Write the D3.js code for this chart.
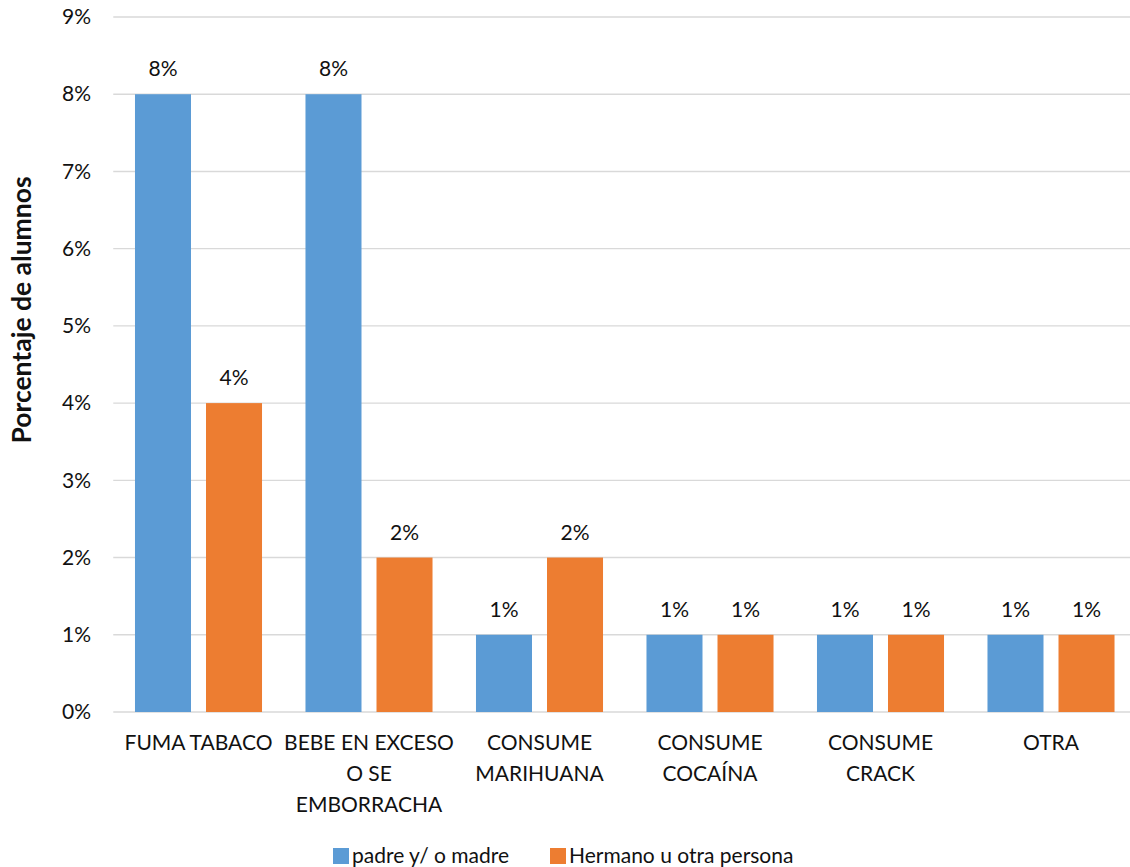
<!DOCTYPE html>
<html>
<head>
<meta charset="utf-8">
<script src="https://cdn.jsdelivr.net/npm/d3@7"></script>
<style>
  html, body { margin: 0; padding: 0; background: #fff; }
  svg { display: block; font-family: Lato, "Open Sans", sans-serif; }
</style>
</head>
<body>
<svg id="chart" width="1130" height="867"></svg>
<script>
// Categories (line breaks mark where the axis label wraps)
const categories = [
  "FUMA TABACO",
  "BEBE EN EXCESO\nO SE\nEMBORRACHA",
  "CONSUME\nMARIHUANA",
  "CONSUME\nCOCAÍNA",
  "CONSUME\nCRACK",
  "OTRA"
];
const seriesNames = ["padre y/ o madre", "Hermano u otra persona"];
const padreMadre = [8, 8, 1, 1, 1, 1];
const hermanoOtra = [4, 2, 2, 1, 1, 1];
const yTicks = [0, 1, 2, 3, 4, 5, 6, 7, 8, 9];
const colors = ["#5B9BD5", "#ED7D31"];

const seriesValues = [padreMadre, hermanoOtra];
const rows = categories.map((c, i) => ({
  cat: c,
  vals: seriesNames.map((s, j) => ({ key: s, value: seriesValues[j][i], color: colors[j] }))
}));

const svg = d3.select("#chart");
const plot = { left: 113.25, right: 1136.25, top: 17, bottom: 712 };

const x0 = d3.scaleBand().domain(categories).range([plot.left, plot.right]).padding(0);
const x1 = d3.scaleBand().domain(seriesNames).range([0, x0.bandwidth()])
  .paddingInner(15 / 71).paddingOuter(0.306);
const y = d3.scaleLinear().domain([0, 9]).range([plot.bottom, plot.top]);

// Horizontal gridlines
svg.append("g").selectAll("line").data(yTicks).join("line")
  .attr("x1", plot.left).attr("x2", 1130)
  .attr("y1", d => y(d)).attr("y2", d => y(d))
  .attr("stroke", "#D9D9D9").attr("stroke-width", 1.4);

// Y axis labels
const yAxis = d3.axisLeft(y).tickValues(yTicks).tickFormat(d => d + "%").tickSize(0).tickPadding(0);
const gy = svg.append("g").attr("transform", "translate(91,0)").call(yAxis);
gy.select(".domain").remove();
gy.selectAll("text").attr("font-size", 21).attr("fill", "#111").attr("font-family", "Lato, sans-serif");

// Bars
const groups = svg.append("g").selectAll("g").data(rows).join("g")
  .attr("transform", d => `translate(${x0(d.cat)},0)`);

groups.selectAll("rect").data(d => d.vals).join("rect")
  .attr("x", d => x1(d.key))
  .attr("width", x1.bandwidth())
  .attr("y", d => y(d.value))
  .attr("height", d => y(0) - y(d.value))
  .attr("fill", d => d.color);

// Value labels
groups.selectAll("text.val").data(d => d.vals).join("text")
  .attr("class", "val")
  .attr("x", d => x1(d.key) + x1.bandwidth() / 2)
  .attr("y", d => y(d.value) - 18)
  .attr("text-anchor", "middle")
  .attr("font-size", 21).attr("fill", "#111")
  .text(d => d.value + "%");

// Category labels (multi-line)
const xAxis = d3.axisBottom(x0).tickSize(0).tickFormat("");
const gx = svg.append("g").attr("transform", `translate(0,${plot.bottom})`).call(xAxis);
gx.select(".domain").remove();
gx.selectAll(".tick").each(function (d) {
  const t = d3.select(this).append("text")
    .attr("text-anchor", "middle").attr("font-size", 21).attr("fill", "#111")
    .attr("font-family", "Lato, sans-serif");
  d.split("\n").forEach((line, i) => {
    t.append("tspan").attr("x", 0).attr("y", 38 + i * 31).text(line);
  });
});

// Y axis title
svg.append("text")
  .attr("transform", "translate(31,310) rotate(-90)")
  .attr("text-anchor", "middle")
  .attr("font-size", 26.5).attr("font-weight", "bold").attr("fill", "#111")
  .text("Porcentaje de alumnos");

// Legend
const legendX = [333, 550];
const legend = svg.append("g").selectAll("g").data(seriesNames).join("g")
  .attr("transform", (d, i) => `translate(${legendX[i]},848)`);
legend.append("rect").attr("width", 16).attr("height", 16).attr("fill", (d, i) => colors[i]);
legend.append("text").attr("x", 19).attr("y", 15)
  .attr("font-size", 21).attr("fill", "#111").text(d => d);
</script>
</body>
</html>
